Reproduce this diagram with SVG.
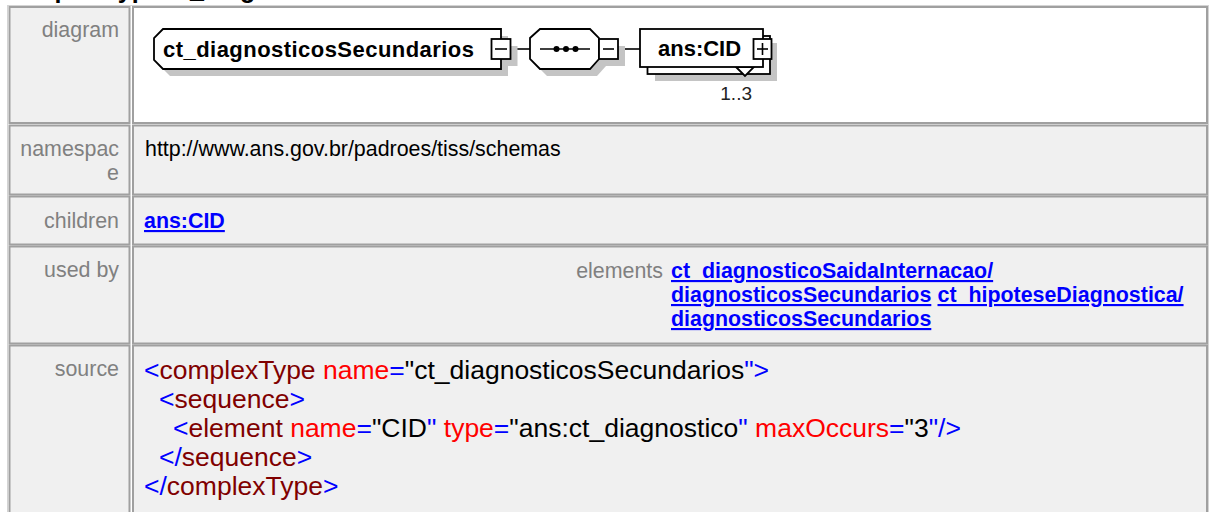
<svg xmlns="http://www.w3.org/2000/svg" width="1215" height="512" viewBox="0 0 1215 512">
<style>
text{font-family:"Liberation Sans",Arial,sans-serif}
.cell{fill:#f0f0f0;stroke:#a0a0a0;stroke-width:2}
.white{fill:#ffffff}
.lbl{font-size:21.4px;fill:#808080;text-anchor:end}
.val{font-size:21.4px;fill:#000000}
.lnk{font-size:21.4px;font-weight:bold;fill:#0000ff;text-decoration:underline}
.src{font-size:26.5px;fill:#000000}
.b{fill:#0000ff}.m{fill:#800000}.r{fill:#ff0000}
.shape{fill:#ffffff;stroke:#000000;stroke-width:1.8}
.shadow{fill:#c4c4c4}
.nt{font-size:22px;font-weight:bold;fill:#000000}
.wire{stroke:#000000;stroke-width:1.6;fill:none}
</style>
<rect width="1215" height="512" fill="#ffffff"/>
<text x="3" y="-2" style="font-size:25px;font-weight:bold">complexType ct_diagnosticosSecundarios</text>

<g id="table">
<rect x="7.5" y="5.5" width="1201" height="520" fill="none" stroke="#d4d4d4" stroke-width="1"/>
<rect class="cell" x="9.5" y="7" width="120" height="116"/>
<rect class="cell white" x="133" y="7" width="1074" height="116"/>
<rect class="cell" x="9.5" y="125.5" width="120" height="69"/>
<rect class="cell" x="133" y="125.5" width="1074" height="69"/>
<rect class="cell" x="9.5" y="196.5" width="120" height="48"/>
<rect class="cell" x="133" y="196.5" width="1074" height="48"/>
<rect class="cell" x="9.5" y="246.5" width="120" height="97"/>
<rect class="cell" x="133" y="246.5" width="1074" height="97"/>
<rect class="cell" x="9.5" y="345.5" width="120" height="175"/>
<rect class="cell" x="133" y="345.5" width="1074" height="175"/>

<text class="lbl" x="119" y="37">diagram</text>
<text class="lbl" x="119" y="156">namespac</text>
<text class="lbl" x="119" y="180">e</text>
<text class="lbl" x="119" y="228">children</text>
<text class="lbl" x="119" y="277">used by</text>
<text class="lbl" x="119" y="376">source</text>

<text class="val" x="145" y="156">http://www.ans.gov.br/padroes/tiss/schemas</text>
<text class="lnk" x="144" y="228">ans:CID</text>

<text class="lbl" x="663" y="278">elements</text>
<text class="lnk" x="671" y="278">ct_diagnosticoSaidaInternacao/</text>
<text class="lnk" x="671" y="302">diagnosticosSecundarios</text>
<text class="lnk" x="937.5" y="302">ct_hipoteseDiagnostica/</text>
<text class="lnk" x="671" y="326">diagnosticosSecundarios</text>

<text class="src" x="144" y="379"><tspan class="b">&lt;</tspan><tspan class="m">complexType</tspan> <tspan class="r">name</tspan><tspan class="b">=</tspan><tspan>"ct_diagnosticosSecundarios</tspan><tspan class="b">"&gt;</tspan></text>
<text class="src" x="159" y="408"><tspan class="b">&lt;</tspan><tspan class="m">sequence</tspan><tspan class="b">&gt;</tspan></text>
<text class="src" x="173" y="437"><tspan class="b">&lt;</tspan><tspan class="m">element</tspan> <tspan class="r">name</tspan><tspan class="b">=</tspan><tspan>"CID</tspan><tspan class="b">"</tspan> <tspan class="r">type</tspan><tspan class="b">=</tspan><tspan>"ans:ct_diagnostico</tspan><tspan class="b">"</tspan> <tspan class="r">maxOccurs</tspan><tspan class="b">=</tspan><tspan>"3</tspan><tspan class="b">"/&gt;</tspan></text>
<text class="src" x="159" y="466"><tspan class="b">&lt;/</tspan><tspan class="m">sequence</tspan><tspan class="b">&gt;</tspan></text>
<text class="src" x="144" y="495"><tspan class="b">&lt;/</tspan><tspan class="m">complexType</tspan><tspan class="b">&gt;</tspan></text>
</g>

<g id="connectors">
<line class="wire" x1="510.5" y1="49" x2="530" y2="49"/>
<line class="wire" x1="618" y1="49" x2="640" y2="49"/>
</g>

<g id="node-ct_diagnosticosSecundarios">
<polygon class="shadow" points="170,36 508,36 508,76 170,76 161,67 161,45"/>
<rect class="shadow" x="498.5" y="46" width="19" height="20"/>
<polygon class="shape" points="163,29 501,29 501,69 163,69 154,60 154,38"/>
<text class="nt" x="163" y="57" textLength="311" lengthAdjust="spacing">ct_diagnosticosSecundarios</text>
<rect class="shape" x="491.5" y="39" width="19" height="20"/>
<line class="wire" x1="495" y1="49" x2="507" y2="49"/>
</g>

<g id="node-sequence">
<polygon class="shadow" points="547,36 597,36 606,45 606,66 597,76 547,76 537,66 537,45"/>
<rect class="shadow" x="606" y="46" width="19" height="20"/>
<polygon class="shape" points="540,29 590,29 599,38 599,59 590,69 540,69 530,59 530,38"/>
<line class="wire" x1="540" y1="49" x2="590" y2="49"/>
<circle cx="556.5" cy="49" r="3" fill="#000000"/>
<circle cx="566" cy="49" r="3" fill="#000000"/>
<circle cx="575.5" cy="49" r="3" fill="#000000"/>
<rect class="shape" x="599" y="39" width="19" height="20"/>
<line class="wire" x1="603" y1="49" x2="614" y2="49"/>
</g>

<g id="node-ans-CID">
<rect class="shadow" x="655" y="43" width="122" height="38"/>
<rect class="shape" x="647.5" y="36" width="122.5" height="38"/>
<polygon class="shape" points="736,67 745,76 754,67"/>
<rect class="shape" x="640" y="29" width="123" height="38"/>
<text class="nt" x="658" y="56">ans:CID</text>
<rect class="shape" x="753.5" y="39" width="18" height="20"/>
<line class="wire" x1="757" y1="49" x2="768" y2="49"/>
<line class="wire" x1="762.5" y1="43" x2="762.5" y2="55"/>
<text x="752" y="100" style="font-size:19px;fill:#222222;text-anchor:end">1..3</text>
</g>
</svg>
